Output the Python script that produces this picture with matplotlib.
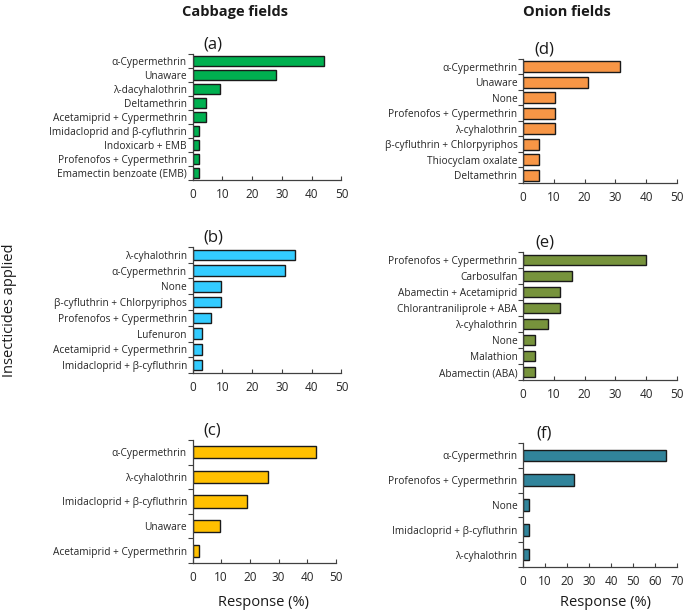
import matplotlib
matplotlib.use("Agg")
import matplotlib.pyplot as plt
import numpy as np

plt.rcParams['font.family'] = ['Open Sans', 'DejaVu Sans']

# panel (a) - cabbage
a_labels = ["α-Cypermethrin", "Unaware", "λ-dacyhalothrin", "Deltamethrin",
            "Acetamiprid + Cypermethrin", "Imidacloprid and β-cyfluthrin",
            "Indoxicarb + EMB", "Profenofos + Cypermethrin", "Emamectin benzoate (EMB)"]
a_values = [44.2, 28.0, 9.3, 4.6, 4.6, 2.3, 2.3, 2.3, 2.3]

# panel (b) - cabbage
b_labels = ["λ-cyhalothrin", "α-Cypermethrin", "None", "β-cyfluthrin + Chlorpyriphos",
            "Profenofos + Cypermethrin", "Lufenuron", "Acetamiprid + Cypermethrin",
            "Imidacloprid + β-cyfluthrin"]
b_values = [34.4, 31.2, 9.4, 9.4, 6.2, 3.1, 3.1, 3.1]

# panel (c) - cabbage
c_labels = ["α-Cypermethrin", "λ-cyhalothrin", "Imidacloprid + β-cyfluthrin",
            "Unaware", "Acetamiprid + Cypermethrin"]
c_values = [42.9, 26.2, 19.0, 9.5, 2.4]

# panel (d) - onion
d_labels = ["α-Cypermethrin", "Unaware", "None", "Profenofos + Cypermethrin",
            "λ-cyhalothrin", "β-cyfluthrin + Chlorpyriphos", "Thiocyclam oxalate",
            "Deltamethrin"]
d_values = [31.6, 21.1, 10.5, 10.5, 10.5, 5.3, 5.3, 5.3]

# panel (e) - onion
e_labels = ["Profenofos + Cypermethrin", "Carbosulfan", "Abamectin + Acetamiprid",
            "Chlorantraniliprole + ABA", "λ-cyhalothrin", "None", "Malathion",
            "Abamectin (ABA)"]
e_values = [40.0, 16.0, 12.0, 12.0, 8.0, 4.0, 4.0, 4.0]

# panel (f) - onion
f_labels = ["α-Cypermethrin", "Profenofos + Cypermethrin", "None",
            "Imidacloprid + β-cyfluthrin", "λ-cyhalothrin"]
f_values = [64.9, 23.4, 2.7, 2.7, 2.7]

fig = plt.figure(figsize=(6.85, 6.13), dpi=100)
W, H = 685, 613

def make_axes(left, right, top, bottom):
    return fig.add_axes([left / W, 1 - bottom / H, (right - left) / W, (bottom - top) / H])

def draw_panel(ax, labels, values, color, tag, xmax, bar_h):
    y = np.arange(len(labels))
    ax.barh(y, values, height=bar_h, color=color, edgecolor='#1a1a1a', linewidth=1.0)
    ax.set_ylim(len(labels) - 0.5, -0.5)
    ax.set_xlim(0, xmax)
    ax.set_xticks(np.arange(0, xmax + 1, 10))
    ax.set_yticks(y)
    ax.set_yticklabels(labels, fontsize=7.3, color='#262626')
    ax.set_yticks(np.arange(-0.5, len(labels)), minor=True)
    ax.tick_params(axis='y', which='major', length=0, pad=4)
    ax.tick_params(axis='y', which='minor', length=3.5, width=0.8, color='#404040')
    ax.tick_params(axis='x', which='major', length=3, width=0.8, direction='in',
                   labelsize=8.5, colors='#404040', labelcolor='#262626', pad=6)
    for s in ['top', 'right']:
        ax.spines[s].set_visible(False)
    for s in ['left', 'bottom']:
        ax.spines[s].set_color('#404040')
        ax.spines[s].set_linewidth(0.9)
    ax.text(0.14, 1.01, tag, transform=ax.transAxes, ha='center', va='bottom',
            fontsize=12, color='#1a1a1a')

ax_a = make_axes(192.5, 341.5, 54, 180)
draw_panel(ax_a, a_labels, a_values, '#00B050', '(a)', 50, 0.7)
ax_b = make_axes(192.5, 341.5, 247, 373)
draw_panel(ax_b, b_labels, b_values, '#33CCFF', '(b)', 50, 0.68)
ax_c = make_axes(192.5, 336, 440, 563)
draw_panel(ax_c, c_labels, c_values, '#FFC000', '(c)', 50, 0.5)
ax_d = make_axes(523, 677, 59, 183)
draw_panel(ax_d, d_labels, d_values, '#F79646', '(d)', 50, 0.7)
ax_e = make_axes(523, 677, 252, 380)
draw_panel(ax_e, e_labels, e_values, '#77933C', '(e)', 50, 0.65)
ax_f = make_axes(523, 677, 443, 567)
draw_panel(ax_f, f_labels, f_values, '#31849B', '(f)', 70, 0.47)

fig.text(235 / W, 1 - 12 / H, "Cabbage fields", ha='center', va='center',
         fontsize=10.5, fontweight='bold', color='#1a1a1a')
fig.text(567 / W, 1 - 12 / H, "Onion fields", ha='center', va='center',
         fontsize=10.5, fontweight='bold', color='#1a1a1a')
fig.text(10 / W, 1 - 310 / H, "Insecticides applied", ha='center', va='center',
         rotation=90, fontsize=10.5, color='#1a1a1a')
fig.text(264 / W, 1 - 603 / H, "Response (%)", ha='center', va='center',
         fontsize=10.5, color='#1a1a1a')
fig.text(605 / W, 1 - 603 / H, "Response (%)", ha='center', va='center',
         fontsize=10.5, color='#1a1a1a')

fig.savefig("out.png", dpi=100, facecolor='white')
